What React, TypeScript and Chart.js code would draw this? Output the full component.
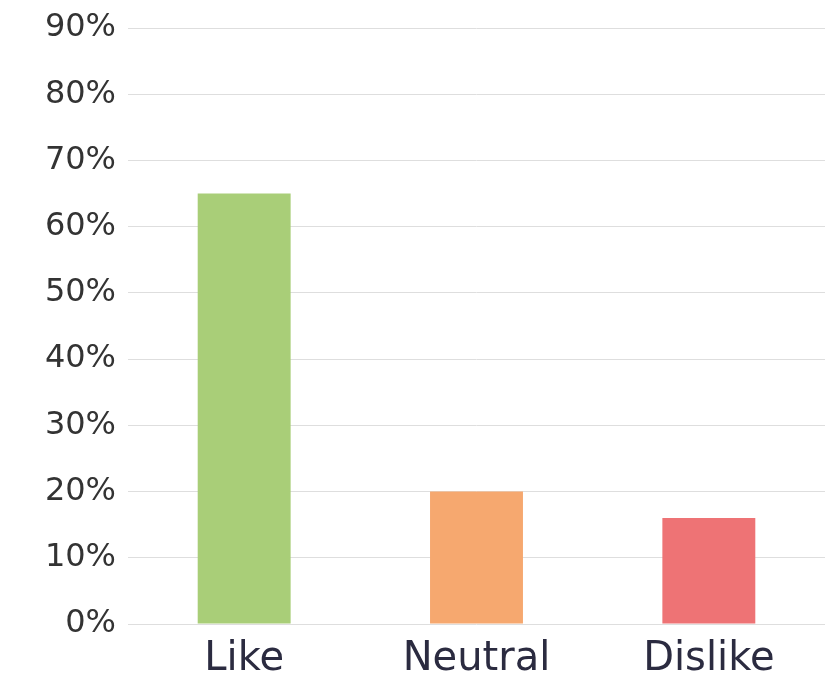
import React, { useEffect, useRef } from "react";
import { Chart, registerables } from "chart.js";

Chart.register(...registerables);

const categories = ["Like", "Neutral", "Dislike"];
const values = [65, 20, 16];
const barColors = ["#A9CE78", "#F6A86F", "#EE7375"];
const yTicks = [0, 10, 20, 30, 40, 50, 60, 70, 80, 90];

export default function App() {
  const ref = useRef<HTMLCanvasElement | null>(null);
  useEffect(() => {
    document.body.style.margin = "0";
    const canvas = ref.current!;
    const chart = new Chart(canvas, {
      type: "bar",
      data: {
        labels: categories,
        datasets: [
          {
            data: values,
            backgroundColor: barColors,
            borderWidth: 0,
            barPercentage: 0.4,
            categoryPercentage: 1,
          },
        ],
      },
      options: {
        responsive: false,
        animation: false,
        layout: { padding: { top: 28, right: 14, left: 0, bottom: 0 } },
        plugins: { legend: { display: false }, tooltip: { enabled: false } },
        scales: {
          x: {
            grid: { display: false, drawTicks: false },
            border: { display: false },
            ticks: {
              padding: 12,
              color: "#2B2B40",
              font: { family: "DejaVu Sans", size: 40 },
            },
            afterFit: (s: any) => {
              s.height = 55;
            },
          },
          y: {
            min: 0,
            max: 90,
            afterBuildTicks: (s: any) => {
              s.ticks = yTicks.map((v) => ({ value: v }));
            },
            grid: { color: "#DEDEDE", lineWidth: 1, drawTicks: false },
            border: { display: false },
            ticks: {
              padding: 12,
              color: "#333333",
              font: { family: "DejaVu Sans", size: 32, lineHeight: 1 },
              callback: (v: any) => v + "%",
            },
            afterFit: (s: any) => {
              s.width = 128;
              s.paddingTop = 0;
              s.paddingBottom = 0;
            },
          },
        },
      },
    });
    return () => chart.destroy();
  }, []);
  return <canvas ref={ref} width={839} height={679} style={{ display: "block" }} />;
}
